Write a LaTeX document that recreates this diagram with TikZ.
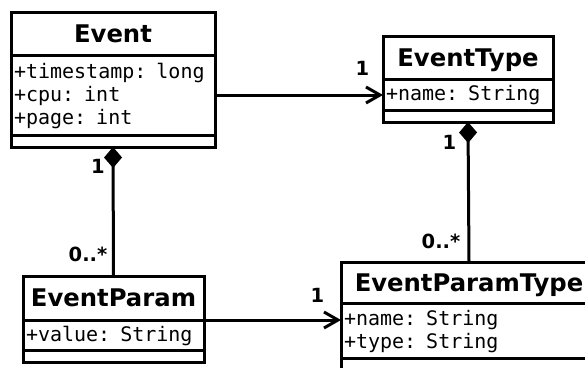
\documentclass[tikz,border=0pt]{standalone}
\usepackage{fontspec}
\setmainfont{DejaVu Sans}
\newfontfamily\umlmono{DejaVu Sans Mono}
\usetikzlibrary{arrows.meta}
\newcommand\umltitlefont{\fontsize{24.3}{28}\selectfont\bfseries}
\newcommand\umlattrfont{\umlmono\fontsize{20}{23}\selectfont}
\newcommand\umlmultfont{\fontsize{19.5}{22}\selectfont\bfseries}
\newcommand\lstrut{\rule[-2.8pt]{0pt}{20pt}}
\tikzset{
  umlbox/.style={draw, line width=3pt, outer sep=0pt, anchor=north west, inner sep=0pt},
  umltitle/.style={umlbox, font=\umltitlefont, align=center, text height=17.7pt, text depth=0pt},
  umlattr/.style={umlbox, font=\umlattrfont, align=left, inner xsep=3pt},
  umlmult/.style={font=\umlmultfont, inner sep=0pt},
  assoc/.style={line width=3pt, -{Straight Barb[length=14pt,width=16pt]}},
  compo/.style={line width=3pt, -{Diamond[length=21pt,width=18pt]}}
}
\begin{document}
\begin{tikzpicture}[x=1pt,y=-1pt]
\useasboundingbox (0,0) rectangle (585,367);
\clip (0,0) rectangle (585,367);
% Event
\node[umltitle, minimum width=204, minimum height=43] (ev) at (11,12) {Event};
\node[umlattr, text width=198, minimum height=80] (eva) at (ev.south west)
  {\lstrut+timestamp: long\\\lstrut+cpu: int\\\lstrut+page: int};
\node[umlbox, minimum width=204, minimum height=12] (evo) at (eva.south west) {};
% EventType
\node[umltitle, minimum width=170, minimum height=43] (et) at (383,36) {EventType};
\node[umlattr, text width=164, minimum height=31] (eta) at (et.south west)
  {\lstrut+name: String};
\node[umlbox, minimum width=170, minimum height=12] (eto) at (eta.south west) {};
% EventParam
\node[umltitle, minimum width=181, minimum height=44] (ep) at (23,276) {EventParam};
\node[umlattr, text width=175, minimum height=30] (epa) at (ep.south west)
  {\lstrut+value: String};
\node[umlbox, minimum width=181, minimum height=12] (epo) at (epa.south west) {};
% EventParamType
\node[umltitle, minimum width=256, minimum height=41] (ept) at (341,262) {EventParamType};
\node[umlattr, text width=250, minimum height=55] (epta) at (ept.south west)
  {\lstrut+name: String\\\lstrut+type: String};
\node[umlbox, minimum width=256, minimum height=15] (epto) at (epta.south west) {};
% connectors
\draw[assoc] (eva.east) -- (eva.east -| eta.west);
\draw[assoc] (ep.south east) -- (ep.south east -| epta.west);
\draw[compo] (ep.north) -- (evo.south);
\draw[compo] (ept.north) -- (eto.south);
% multiplicities
\node[umlmult] (m1) at (362.5,68.5) {1};
\node[umlmult] (m2) at (98,166.5) {1};
\node[umlmult] (m3) at (88,254.5) {0..*};
\node[umlmult] (m4) at (449.5,142) {1};
\node[umlmult] (m5) at (441,241) {0..*};
\node[umlmult] (m6) at (317.5,295) {1};
\end{tikzpicture}
\end{document}
